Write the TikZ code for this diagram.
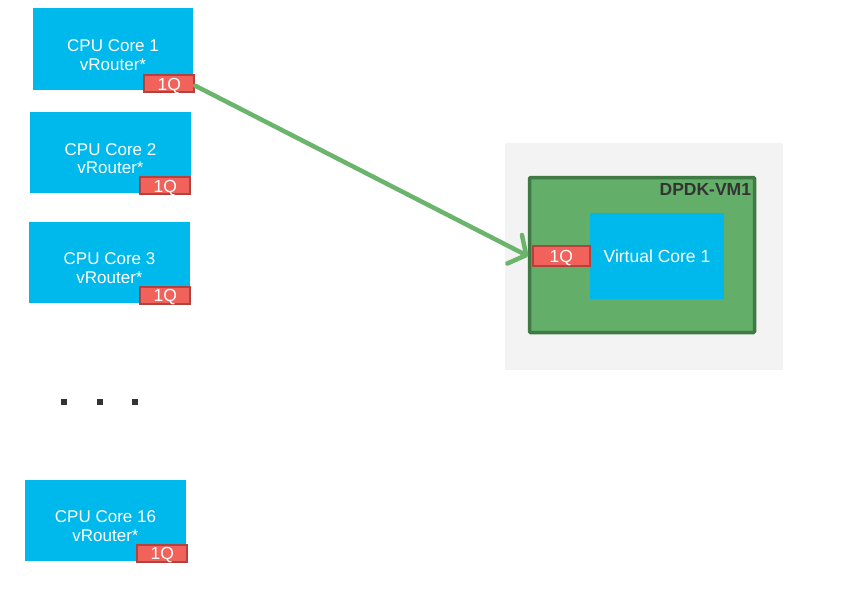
\documentclass[tikz,border=0pt]{standalone}
\usepackage{fontspec}
\setmainfont{Liberation Sans}
\usetikzlibrary{arrows.meta,positioning,calc}
\definecolor{cyan}{HTML}{00B9EC}
\definecolor{qred}{HTML}{F0625A}
\definecolor{qdark}{HTML}{B3413D}
\definecolor{vmgreen}{HTML}{63AE68}
\definecolor{vmdark}{HTML}{3F7944}
\definecolor{arrowgreen}{HTML}{6AB46C}
\definecolor{bggrey}{HTML}{F3F3F3}
\definecolor{inkgrey}{HTML}{333333}

\begin{document}
\begin{tikzpicture}[x=1pt,y=-1pt,
  core/.style={fill=cyan,minimum width=161pt,minimum height=81pt,inner sep=0pt},
  coretext/.style={text=white,align=center,font=\fontsize{17}{18.5}\selectfont},
  qbadge/.style={fill=qred,draw=qdark,line width=2pt,minimum width=50pt,minimum height=17pt,inner sep=0pt,text height=13pt,text depth=0pt,text=white,font=\fontsize{17.5}{18}\selectfont},
  dot/.style={fill=inkgrey,minimum size=6.5pt,inner sep=0pt}]
  \useasboundingbox (0,0) rectangle (852,592);

  % host cores
  \node[core,minimum width=160pt,minimum height=82pt] (c1) at (113,49) {};
  \node[core] (c2) at (110.5,152.5) {};
  \node[core] (c3) at (109.5,262) {};
  \node[core] (c16) at (105.5,520) {};
  \node[coretext] at ([yshift=-6pt]c1.center) {CPU Core 1\\vRouter*};
  \node[coretext] at ([yshift=-6pt]c2.center) {CPU Core 2\\vRouter*};
  \node[coretext] at ([yshift=-6pt]c3.center) {CPU Core 3\\vRouter*};
  \node[coretext] at ([yshift=-6pt]c16.center) {CPU Core 16\\vRouter*};
  \node[qbadge,anchor=south east] (q1) at ([xshift=2pt,yshift=-3pt]c1.south east) {1Q};
  \node[qbadge,anchor=south east] (q2) at ([xshift=0pt,yshift=-2pt]c2.south east) {1Q};
  \node[qbadge,anchor=south east] (q3) at ([xshift=1pt,yshift=-2pt]c3.south east) {1Q};
  \node[qbadge,anchor=south east] (q16) at ([xshift=2pt,yshift=-2pt]c16.south east) {1Q};

  % ellipsis
  \foreach \x [count=\i] in {64,100,135}
    \node[dot] (d\i) at (\x,402) {};

  % guest VM
  \node[fill=bggrey,minimum width=278pt,minimum height=227pt,inner sep=0pt] (host) at (644,256.5) {};
  \node[fill=vmgreen,draw=vmdark,line width=3.5pt,rounded corners=1pt,minimum width=225pt,minimum height=155pt,inner sep=0pt] (vm) at (642,255) {};
  \node[anchor=north east,text=inkgrey,font=\bfseries\fontsize{17.5}{18}\selectfont,inner sep=0pt] (vmname) at ([xshift=-5pt,yshift=-8pt]vm.north east) {DPDK-VM1};
  \node[fill=cyan,minimum width=134pt,minimum height=86pt,inner sep=0pt,text=white,font=\fontsize{17.5}{18}\selectfont] (vc1) at (657,256) {Virtual Core 1};
  \node[qbadge,minimum width=57pt,minimum height=20pt,anchor=east] (vq) at ([xshift=1pt]vc1.west) {1Q};

  \draw[arrowgreen,line width=4.5pt,line cap=round,-{Straight Barb[length=13pt,width=32pt,line cap=round,line join=round]},shorten >=4pt] ([yshift=-2pt]q1.east) -- ([yshift=-2pt]vq.west);
\end{tikzpicture}
\end{document}
